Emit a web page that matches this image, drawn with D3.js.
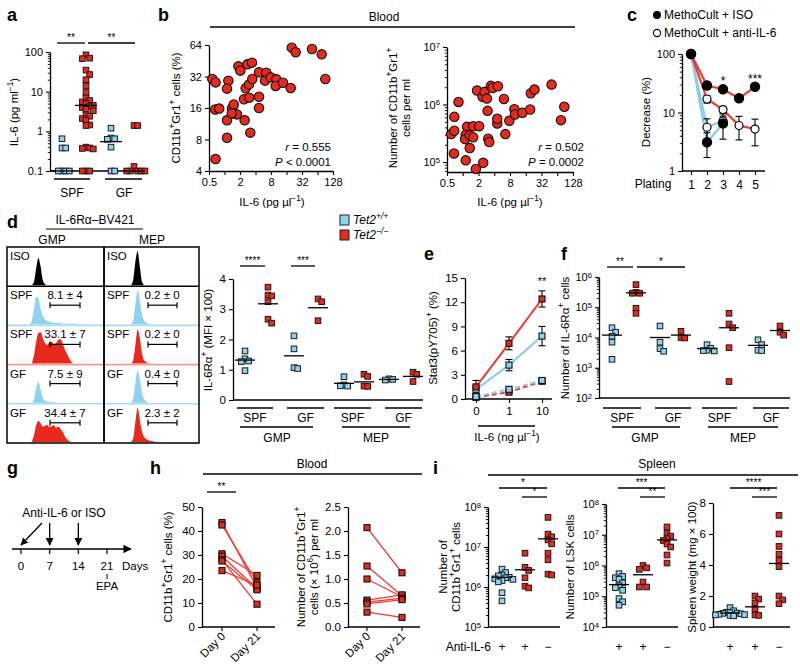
<!DOCTYPE html>
<html><head><meta charset="utf-8">
<script src="https://cdn.jsdelivr.net/npm/d3@7"></script>
<style>
body{margin:0;background:#fff}
svg{display:block;background:#fff}
text{font-family:'Liberation Sans',Arial,Helvetica,sans-serif;fill:#000}
</style>
</head><body>
<svg id="fig" width="800" height="669"></svg>
<script>
// ================= DATA =================
const RED = "#e8291c", BLUE = "#8fd3f1", LRED = "#ee3b2e", LBLUE = "#86cdee";

// panel a : IL-6 (pg/ml)
const aGroupLabels = ["SPF", "GF"];
const aSpfWT = [0.65, 0.38, 0.38, 0.1, 0.1, 0.1, 0.1];
const aSpfKO = [85, 70, 68, 35, 27, 20, 14, 9.5, 7, 6, 5.5, 5, 4.5, 4.2, 4, 3.6, 3.3, 2.6, 2.4, 2.1, 1.9, 1.45, 1.4, 0.4, 0.38, 0.37, 0.36, 0.1, 0.1, 0.1];
const aGfWT = [1.2, 0.68, 0.65, 0.63, 0.4, 0.1, 0.1];
const aGfKO = [1.4, 1.4, 0.13, 0.1, 0.1, 0.1, 0.1, 0.1];
const aMedians = [0.1, 4.5, 0.55, 0.1];
const aTicks = [0.1, 1, 10, 100];

// panel b : blood
const bPctIL6 = [0.58,0.67,0.66,0.79,1.19,1.12,1.12,1.12,0.67,1.40,1.51,1.58,1.75,1.38,1.86,2.03,2.46,2.39,2.58,2.78,3.42,2.99,3.04,3.17,3.47,4.68,4.68,4.68,6.49,6.12,7.88,10.16,9.86,13.7,19.3,20.2,24.1,50.0,77.1,90.8];
const bPctVal  = [30.3,28.1,15.5,15.8,29.2,24.5,12.2,8.3,5.2,15.9,17.3,14.2,13.9,14.2,40.0,36.4,12.2,19.4,24.7,41.8,43.4,26.9,20.1,9.3,30.3,20.5,16.0,35.1,34.8,29.2,31.4,30.1,26.0,27.9,24.8,60.4,54.5,58.6,52.1,30.3];
const bNumIL6 = [0.60,0.69,0.69,0.83,0.68,1.14,1.21,1.14,1.11,1.36,1.36,1.58,1.58,2.06,1.78,1.88,2.46,2.39,2.61,2.89,2.98,3.07,3.21,3.45,3.72,4.70,4.57,4.57,6.13,6.51,7.77,9.69,9.98,13.8,19.4,19.96,23.5,49.8,75.3,87.2];
const bNumVal = [3.06e5,6.1e5,3.5e5,1.11e6,1.41e5,1.07e5,4.1e5,2.98e5,2.5e5,1.75e5,2.9e5,4.2e5,2.7e5,4.2e5,7.6e4,1.75e6,9.7e4,1.36e6,1.66e6,1.27e6,7.76e5,2.54e5,2.22e5,2.11e6,1.94e6,2.08e6,4.69e5,5.64e5,1.25e6,3.06e5,5.21e5,8.3e5,6.71e5,7.17e5,8.19e5,1.57e6,1.82e6,2.22e6,5.35e5,9.12e5];
const bXTicks = [0.5, 2, 8, 32, 128];
const bPctTicks = [4, 8, 16, 32, 64];
const bNumTicks = [1e5, 1e6, 1e7];

// panel c : replating
const cPlating = [1, 2, 3, 4, 5];
const cKoIso = [100, 29, 25, 17.5, 27.5];   const cKoIsoErr = [0, 4, 2, 1.5, 2.5];
const cKoAnti = [100, 17, 11.2, 6, 5.2];    const cKoAntiErr = [0, 2.5, 1.2, 2.6, 2.5];
const cWtIso = [100, 3.1, 6.5];             const cWtIsoErr = [0, 1.4, 3];
const cWtAnti = [100, 5.6, 7.2];            const cWtAntiErr = [0, 2.2, 1.5];
const cTicks = [1, 10, 100];

// panel d : histograms (relative counts per bin) and MFI
const dRows = ["ISO", "SPF", "SPF", "GF", "GF"];
const dHistGMP = [
  {s:9,  v:[0,0.1,0.5,0.8,0.55,0.15,0.03,0]},
  {s:8,  v:[0,0.1,0.45,0.82,0.78,0.45,0.25,0.15,0.1,0.08,0.06,0.05,0.05,0.04,0.04,0.03,0.03,0.03,0.02,0.03,0.03,0.02,0.02,0.01,0]},
  {s:9,  v:[0,0.25,0.65,0.9,0.92,0.75,0.6,0.55,0.62,0.64,0.58,0.6,0.7,0.72,0.6,0.42,0.28,0.15,0.05,0]},
  {s:9,  v:[0,0.1,0.45,0.62,0.4,0.15,0.06,0.04,0.03,0.02,0.02,0.01,0]},
  {s:9,  v:[0,0.2,0.5,0.62,0.55,0.45,0.48,0.5,0.44,0.46,0.5,0.42,0.45,0.4,0.3,0.18,0.08,0.02,0]}
];
const dHistMEP = [
  {s:10, v:[0,0.15,0.7,1.0,0.55,0.1,0]},
  {s:10, v:[0,0.12,0.6,1.0,0.72,0.3,0.12,0.05,0.02,0]},
  {s:10, v:[0,0.1,0.55,1.0,0.75,0.3,0.1,0.04,0.01,0]},
  {s:10, v:[0,0.12,0.6,0.95,0.7,0.3,0.1,0.04,0]},
  {s:10, v:[0,0.1,0.6,1.0,0.65,0.3,0.15,0.08,0.05,0.03,0.02,0.01,0]}
];
const dGateGMP = ["", "8.1 ± 4", "33.1 ± 7", "7.5 ± 9", "34.4 ± 7"];
const dGateMEP = ["", "0.2 ± 0", "0.2 ± 0", "0.4 ± 0", "2.3 ± 2"];
const dGroups = ["SPF", "GF", "SPF", "GF"];
const dCells = ["GMP", "MEP"];
const dMfiWT = [[1.62,1.36,1.29,1.27,0.97],[2.12,1.69,1.07,1.04],[0.77,0.5,0.46,0.47],[0.7,0.68,0.66]];
const dMfiKO = [[3.73,3.47,3.44,3.25,2.67,2.54],[3.34,3.25,2.62],[0.85,0.78,0.46,0.45],[0.92,0.85,0.61]];
const dMfiMeanWT = [1.32, 1.46, 0.55, 0.68];
const dMfiMeanKO = [3.18, 3.05, 0.6, 0.78];
const dMfiTicks = [0, 1, 2, 3, 4];

// panel e : Stat3
const eDose = ["0", "1", "10"];
const eKoSolid = [1.5, 6.9, 12.4];  const eKoSolidErr = [0.8, 0.8, 1.0];
const eWtSolid = [1.2, 4.2, 7.8];   const eWtSolidErr = [0.5, 0.7, 1.2];
const eWtDash = [0.3, 1.2, 2.3];    const eWtDashErr = [0.2, 0.3, 0.3];
const eKoDash = [0.2, 0.85, 2.2];   const eKoDashErr = [0.1, 0.2, 0.3];
const eTicks = [0, 3, 6, 9, 12, 15];

// panel f : number of IL-6Ra+ cells
const fWT = [[2.1e4,1.5e4,1.1e4,7e3,1.9e3],[2.4e4,7e3,4.3e3,3.5e3],[5.8e3,4.4e3,3.8e3,3.7e3,3.6e3],[8.4e3,5.8e3,3.8e3,3.7e3]];
const fKO = [[5.6e5,3.1e5,2.9e5,2.9e5,9.3e4,6.3e4],[1.6e4,1e4,9.6e3],[6.3e4,2.8e4,2.1e4,4.6e3,350],[2.4e4,1.5e4,1.2e4]];
const fMeanWT = [1.2e4, 1e4, 4.3e3, 5.5e3];
const fMeanKO = [3e5, 1.2e4, 2.1e4, 1.7e4];
const fTicks = [1e2, 1e3, 1e4, 1e5, 1e6];

// panel g : schedule
const gDays = [0, 7, 14, 21];
const gInjections = [0, 7, 14];

// panel h : blood day 0 vs day 21
const hDays = ["Day 0", "Day 21"];
const hPctDay0 = [43.5, 42.5, 30.5, 29.5, 28, 27.5, 23.5];
const hPctDay21 = [16.5, 18.5, 21.5, 16, 9.5, 15.5, 17.5];
const hNumDay0 = [2.07, 1.27, 1.0, 0.56, 0.52, 0.48, 0.31];
const hNumDay21 = [1.13, 0.65, 0.63, 0.67, 0.6, 0.57, 0.2];
const hPctTicks = [0, 10, 20, 30, 40, 50];
const hNumTicks = [0, 0.5, 1.0, 1.5, 2.0, 2.5];

// panel i : spleen
const iTreatment = ["+", "+", "−"];
const iCD11 = [[2.8e6,2.3e6,2.0e6,1.9e6,1.75e6,1.7e6,1.6e6,1.55e6,1.45e6,1.35e6,7.2e5,4.5e5],[7e6,3.1e6,2.6e6,1.7e6,1.05e6,9.5e5],[5.5e7,2.1e7,1.8e7,1.5e7,1.2e7,7e6,4.8e6,2.1e6,2e6]];
const iCD11Mean = [1.75e6, 2.7e6, 1.6e7];
const iLSK = [[5.4e5,4.4e5,4e5,3.6e5,2.7e5,2.2e5,1.9e5,1.56e5,8.4e4,6.6e4,5.1e4],[1e6,8.4e5,7.5e5,2.9e5,2e5,2e5],[1.8e7,1.1e7,9e6,7.5e6,6.5e6,5e6,4e6,2.2e6,1.2e6]];
const iLSKMean = [2.4e5, 5e5, 6.8e6];
const iWeight = [[1.25,1.05,0.95,0.92,0.9,0.88,0.85,0.82,0.8,0.78,0.75,0.72],[2.0,1.8,1.55,1.15,0.78,0.75],[7.2,6.0,5.2,4.7,4.3,3.9,2.0,1.75,1.5]];
const iWeightMean = [0.9, 1.3, 4.1];
const iCD11Ticks = [1e5, 1e6, 1e7, 1e8];
const iLSKTicks = [1e4, 1e5, 1e6, 1e7, 1e8];
const iWeightTicks = [0, 2, 4, 6, 8];

// ================= HELPERS =================
const svg = d3.select("#fig");
const defs = svg.append("defs");
defs.append("marker").attr("id","arr").attr("viewBox","0 0 10 10").attr("refX",9).attr("refY",5)
  .attr("markerWidth",6).attr("markerHeight",6).attr("orient","auto")
  .append("path").attr("d","M0,0L10,5L0,10z").attr("fill","#000");

function T(x, y, parts, o = {}) {
  const fs = o.size || 11;
  const t = svg.append("text").attr("x", x).attr("y", y).attr("font-size", fs)
    .attr("text-anchor", o.anchor || "middle");
  if (o.weight) t.attr("font-weight", o.weight);
  if (o.style) t.attr("font-style", o.style);
  if (o.rot !== undefined) t.attr("transform", `rotate(${o.rot},${x},${y})`);
  if (typeof parts === "string") parts = [[parts]];
  let cur = 0;
  parts.forEach(p => {
    const st = p[1] || "";
    const sp = t.append("tspan").text(p[0]);
    const sup = st.includes("sup");
    const target = sup ? -fs * 0.4 : 0;
    if (sup) sp.attr("font-size", fs * 0.72);
    if (st.includes("it")) sp.attr("font-style", "italic");
    if (target !== cur) { sp.attr("dy", target - cur); cur = target; }
  });
  return t;
}
function L(x1, y1, x2, y2, o = {}) {
  return svg.append("line").attr("x1", x1).attr("y1", y1).attr("x2", x2).attr("y2", y2)
    .attr("stroke", o.c || "#000").attr("stroke-width", o.w || 1.2)
    .attr("stroke-dasharray", o.dash || null);
}
function styleAxis(g, fs) {
  g.select(".domain").attr("stroke", "#000").attr("stroke-width", 1.3);
  g.selectAll(".tick line").attr("stroke", "#000").attr("stroke-width", 1.1);
  g.selectAll(".tick text").attr("font-size", fs || 11).attr("fill", "#000");
}
function powLabels(g) {
  g.selectAll(".tick text").each(function (d) {
    const t = d3.select(this); t.text("10");
    t.append("tspan").attr("dy", "-0.45em").attr("font-size", "0.7em").text(Math.round(Math.log10(d)));
  });
}
function logMinor(lo, hi) {
  const out = [];
  for (let e = Math.floor(Math.log10(lo)); e < Math.ceil(Math.log10(hi)); e++)
    for (let k = 2; k <= 9; k++) { const v = k * Math.pow(10, e); if (v >= lo && v <= hi) out.push(v); }
  return out;
}
function yAxis(scale, x, ticks, fmt, o = {}) {
  const g = svg.append("g").attr("transform", `translate(${x},0)`)
    .call(d3.axisLeft(scale).tickValues(ticks).tickFormat(fmt || (d => d)).tickSize(4).tickSizeOuter(0).tickPadding(3));
  styleAxis(g, o.fs);
  if (o.pow) powLabels(g);
  if (o.minor) {
    const m = svg.append("g").attr("transform", `translate(${x},0)`)
      .call(d3.axisLeft(scale).tickValues(o.minor).tickFormat("").tickSize(2.2).tickSizeOuter(0));
    m.select(".domain").remove();
    m.selectAll("line").attr("stroke", "#000").attr("stroke-width", 0.9);
  }
  return g;
}
function xAxis(scale, y, ticks, fmt, o = {}) {
  const ax = d3.axisBottom(scale).tickSize(4).tickSizeOuter(0).tickPadding(3).tickFormat(fmt || (d => d));
  if (ticks) ax.tickValues(ticks);
  const g = svg.append("g").attr("transform", `translate(0,${y})`).call(ax);
  styleAxis(g, o.fs);
  return g;
}
// beeswarm layout for the dot plots (positions only)
function swarm(vals, scale, cx, size) {
  const pts = vals.map(v => ({ v, y: scale(v) }));
  const placed = [];
  const step = size * 0.65, thrX = size * 0.65, thrY = size * 0.9;
  const cand = [0];
  for (let k = 1; k < 5; k++) { cand.push(k * step); cand.push(-k * step); }
  pts.forEach(p => {
    let best = cx, bestHits = 1e9;
    for (const c of cand) {
      const x = cx + c;
      const hits = placed.filter(q => Math.abs(q.x - x) < thrX - 0.01 && Math.abs(q.y - p.y) < thrY).length;
      if (hits === 0) { best = x; break; }
      if (hits < bestHits) { bestHits = hits; best = x; }
    }
    p.x = best;
    placed.push(p);
  });
  return pts;
}
function squares(vals, scale, cx, color, size = 5.6) {
  const pts = swarm(vals, scale, cx, size);
  svg.append("g").selectAll("rect").data(pts).join("rect")
    .attr("x", d => d.x - size / 2).attr("y", d => d.y - size / 2)
    .attr("width", size).attr("height", size)
    .attr("fill", color).attr("stroke", "#1a1a1a").attr("stroke-width", 1);
}
function meanLine(v, scale, cx, hw) { L(cx - hw, scale(v), cx + hw, scale(v), { w: 1.3 }); }
function sig(x1, x2, y, s) { L(x1, y, x2, y, { w: 1.3 }); T((x1 + x2) / 2, y - 2, s, { size: 10 }); }
function letter(x, y, s) { T(x, y, s, { size: 18, weight: "bold", anchor: "start" }); }
function errBar(x, y1, y2, cap) {
  L(x, y1, x, y2, { w: 1.1 });
  L(x - cap, y1, x + cap, y1, { w: 1.1 });
  L(x - cap, y2, x + cap, y2, { w: 1.1 });
}

// ================= PANEL a =================
letter(7, 21, "a");
const yA = d3.scaleLog().domain([0.1, 100]).range([171, 52]);
yAxis(yA, 50, aTicks, d => d, { minor: logMinor(0.1, 100) });
L(50, 171, 146, 171, { w: 1.3 });
const aCenters = [62, 86, 111, 134];
[aSpfWT, aSpfKO, aGfWT, aGfKO].forEach((arr, i) => {
  squares(arr, yA, aCenters[i], i % 2 ? RED : BLUE);
  meanLine(aMedians[i], yA, aCenters[i], 11);
});
L(54, 179, 90, 179, { w: 1.3 }); L(105, 179, 142, 179, { w: 1.3 });
T(72, 197, aGroupLabels[0], { size: 12 }); T(124, 197, aGroupLabels[1], { size: 12 });
sig(57, 85, 43, "**"); sig(88, 135, 43, "**");
T(18, 112, [["IL-6 (pg ml"], ["−1", "sup"], [")"]], { rot: -90, size: 11.5 });

// ================= PANEL b =================
letter(158, 21, "b");
T(384, 21, "Blood", { size: 12 });
L(210, 27, 575, 27, { w: 1.3 });
const xB1 = d3.scaleLog().base(2).domain([0.5, 128]).range([209, 333]);
const yB1 = d3.scaleLog().base(2).domain([4, 64]).range([171, 45]);
yAxis(yB1, 209, bPctTicks, d => d);
xAxis(xB1, 171, [0.5, 1, 2, 4, 8, 16, 32, 64, 128], d => bXTicks.includes(d) ? d : "");
svg.append("g").selectAll("circle").data(bPctIL6).join("circle")
  .attr("cx", (d) => xB1(d)).attr("cy", (d, i) => yB1(bPctVal[i])).attr("r", 4.7)
  .attr("fill", RED).attr("stroke", "#111").attr("stroke-width", 1.1);
T(272, 206, [["IL-6 (pg µl"], ["−1", "sup"], [")"]], { size: 11.5 });
T(180, 108, [["CD11b"], ["+", "sup"], ["Gr1"], ["+", "sup"], [" cells (%)"]], { rot: -90, size: 11.5 });
T(331, 151, [["r", "it"], [" = 0.555"]], { anchor: "end", size: 11.5 });
T(331, 166, [["P", "it"], [" < 0.0001"]], { anchor: "end", size: 11.5 });
const xB2 = d3.scaleLog().base(2).domain([0.5, 128]).range([447, 573]);
const yB2 = d3.scaleLog().domain([Math.pow(10, 4.827), 1e7]).range([172, 47]);
yAxis(yB2, 447, bNumTicks, d => d, { pow: true, minor: logMinor(Math.pow(10, 4.827), 1e7) });
xAxis(xB2, 172, [0.5, 1, 2, 4, 8, 16, 32, 64, 128], d => bXTicks.includes(d) ? d : "");
svg.append("g").selectAll("circle").data(bNumIL6).join("circle")
  .attr("cx", d => xB2(d)).attr("cy", (d, i) => yB2(bNumVal[i])).attr("r", 4.7)
  .attr("fill", RED).attr("stroke", "#111").attr("stroke-width", 1.1);
T(510, 206, [["IL-6 (pg µl"], ["−1", "sup"], [")"]], { size: 11.5 });
T(397, 108, [["Number of CD11b"], ["+", "sup"], ["Gr1"], ["+", "sup"]], { rot: -90, size: 11.5 });
T(410, 108, "cells per ml", { rot: -90, size: 11.5 });
T(584, 151, [["r", "it"], [" = 0.502"]], { anchor: "end", size: 11.5 });
T(584, 166, [["P", "it"], [" = 0.0002"]], { anchor: "end", size: 11.5 });

// ================= PANEL c =================
letter(627, 21, "c");
svg.append("circle").attr("cx", 657).attr("cy", 15).attr("r", 4).attr("fill", "#000");
T(664, 19, "MethoCult + ISO", { anchor: "start", size: 12 });
svg.append("circle").attr("cx", 657).attr("cy", 33).attr("r", 3.6).attr("fill", "#fff").attr("stroke", "#000").attr("stroke-width", 1.1);
T(664, 37, "MethoCult + anti-IL-6", { anchor: "start", size: 12 });
const yC = d3.scaleLog().domain([1, 100]).range([171, 54]);
const xC = d3.scaleLinear().domain([1, 5]).range([691, 755]);
yAxis(yC, 682, cTicks, d => d, { minor: logMinor(1, 100) });
const gxc = svg.append("g").attr("transform", "translate(0,171)")
  .call(d3.axisBottom(xC).tickValues(cPlating).tickFormat(d => d).tickSize(4).tickSizeOuter(0).tickPadding(5));
styleAxis(gxc, 12);
gxc.select(".domain").attr("d", "M682,0H765");
T(653, 188, "Plating", { size: 12 });
T(650, 112, "Decrease (%)", { rot: -90, size: 11.5 });
const lineC = d3.line().x((d, i) => xC(cPlating[i])).y(d => yC(d));
[[cWtIso, LBLUE], [cWtAnti, LBLUE], [cKoIso, LRED], [cKoAnti, LRED]].forEach(([arr, col]) => {
  svg.append("path").attr("d", lineC(arr)).attr("fill", "none").attr("stroke", col).attr("stroke-width", 2.2);
});
[[cWtIso, cWtIsoErr], [cWtAnti, cWtAntiErr], [cKoIso, cKoIsoErr], [cKoAnti, cKoAntiErr]].forEach(([arr, err]) => {
  arr.forEach((v, i) => { if (err[i] > 0) errBar(xC(cPlating[i]), yC(v - err[i]), yC(v + err[i]), 3.5); });
});
[[cWtAnti, false], [cKoAnti, false], [cWtIso, true], [cKoIso, true]].forEach(([arr, filled]) => {
  arr.forEach((v, i) => {
    svg.append("circle").attr("cx", xC(cPlating[i])).attr("cy", yC(v)).attr("r", filled ? 4.6 : 4)
      .attr("fill", filled ? "#000" : "#fff").attr("stroke", "#000").attr("stroke-width", 1.2);
  });
});
T(xC(3), 85, "*", { size: 12 });
T(xC(5), 83, "***", { size: 12 });

// ================= PANEL d (histograms) =================
letter(7, 228, "d");
T(95, 224, "IL-6Rα–BV421", { size: 12 });
L(46, 229, 143, 229, { w: 1.2 });
T(52, 244, dCells[0], { size: 12 });
T(152, 244, dCells[1], { size: 12 });
const rowTop0 = 247, rowH = 39.2;
const rowColors = ["#000", BLUE, RED, BLUE, RED];
const lineColors = ["#000", "#a9dcf3", "#f29a93", "#a9dcf3", "#000"];
function drawHist(h, x0, top, color) {
  const xs = d3.scaleLinear().domain([0, 40]).range([x0 + 5, x0 + 93]);
  const bottom = top + rowH - 1;
  const area = d3.area().curve(d3.curveMonotoneX)
    .x((d, i) => xs(h.s + i)).y0(bottom).y1(d => bottom - d * 34);
  svg.append("path").attr("d", area(h.v)).attr("fill", color);
}
dRows.forEach((r, i) => {
  const top = rowTop0 + i * rowH;
  drawHist(dHistGMP[i], 7, top, rowColors[i]);
  drawHist(dHistMEP[i], 104, top, rowColors[i]);
  if (i < dRows.length - 1) {
    L(7, top + rowH, 104, top + rowH, { c: lineColors[i], w: 1.6 });
    L(104, top + rowH, 199, top + rowH, { c: lineColors[i], w: 1.6 });
  }
  T(10, top + 13, r, { anchor: "start", size: 11.5 });
  T(107, top + 13, r, { anchor: "start", size: 11.5 });
  if (dGateGMP[i]) {
    T(65, top + 13, dGateGMP[i], { size: 11.5 });
    L(50, top + 19, 80, top + 19, { w: 1.2 }); L(50, top + 16, 50, top + 22, { w: 1.2 }); L(80, top + 16, 80, top + 22, { w: 1.2 });
    T(162, top + 13, dGateMEP[i], { size: 11.5 });
    L(148, top + 19, 177, top + 19, { w: 1.2 }); L(148, top + 16, 148, top + 22, { w: 1.2 }); L(177, top + 16, 177, top + 22, { w: 1.2 });
  }
});
svg.append("rect").attr("x", 7).attr("y", rowTop0).attr("width", 97).attr("height", 5 * rowH).attr("fill", "none").attr("stroke", "#000").attr("stroke-width", 1.5);
svg.append("rect").attr("x", 104).attr("y", rowTop0).attr("width", 95).attr("height", 5 * rowH).attr("fill", "none").attr("stroke", "#000").attr("stroke-width", 1.5);

svg.append("rect").attr("x", 340).attr("y", 215).attr("width", 9).attr("height", 10).attr("fill", BLUE).attr("stroke", "#222");
svg.append("rect").attr("x", 340).attr("y", 230).attr("width", 9).attr("height", 10).attr("fill", RED).attr("stroke", "#222");
T(353, 224, [["Tet2", "it"], ["+/+", "supit"]], { anchor: "start", size: 12 });
T(353, 239, [["Tet2", "it"], ["−/−", "supit"]], { anchor: "start", size: 12 });

// ================= PANEL d (MFI) =================
const yD = d3.scaleLinear().domain([0, 4]).range([400, 279]);
yAxis(yD, 233, dMfiTicks, d => d, { fs: 11.5 });
L(233, 400, 423, 400, { w: 1.3 });
const dWtX = [245, 294, 344, 389], dKoX = [268, 318, 364, 413];
dMfiWT.forEach((arr, i) => { squares(arr, yD, dWtX[i], BLUE); meanLine(dMfiMeanWT[i], yD, dWtX[i], 10); });
dMfiKO.forEach((arr, i) => { squares(arr, yD, dKoX[i], RED); meanLine(dMfiMeanKO[i], yD, dKoX[i], 10); });
const dUnder = [[237, 273], [287, 324], [334, 371], [385, 422]];
dUnder.forEach((u, i) => { L(u[0], 408, u[1], 408, { w: 1.3 }); T((u[0] + u[1]) / 2, 422, dGroups[i], { size: 12 }); });
L(240, 427, 313, 427, { w: 1.3 }); L(342, 427, 410, 427, { w: 1.3 });
T(277, 442, dCells[0], { size: 12 }); T(376, 442, dCells[1], { size: 12 });
sig(240, 265, 266, "****"); sig(291, 315, 266, "***");
T(212, 340, [["IL-6Rα"], ["+", "sup"], [" (MFI × 100)"]], { rot: -90, size: 11.5 });

// ================= PANEL e =================
letter(424, 260, "e");
const yE = d3.scaleLinear().domain([0, 15]).range([399, 278]);
const xE = d3.scalePoint().domain(eDose).range([476, 542]);
yAxis(yE, 465, eTicks, d => d, { fs: 11.5 });
const gxe = svg.append("g").attr("transform", "translate(0,399)")
  .call(d3.axisBottom(xE).tickSize(4).tickSizeOuter(0).tickPadding(4));
styleAxis(gxe, 11.5);
gxe.select(".domain").attr("d", "M465,0H552");
L(478, 426, 535, 426, { w: 1.3 });
T(507, 441, [["IL-6 (ng µl"], ["−1", "sup"], [")"]], { size: 11.5 });
T(437, 338, [["Stat3(pY705)"], ["+", "sup"], [" (%)"]], { rot: -90, size: 11.5 });
const lineE = d3.line().x((d, i) => xE(eDose[i])).y(d => yE(d));
[[eKoDash, LRED, "5,3", eKoDashErr], [eWtDash, LBLUE, "5,3", eWtDashErr], [eWtSolid, LBLUE, null, eWtSolidErr], [eKoSolid, LRED, null, eKoSolidErr]].forEach(([arr, col, dash, err]) => {
  svg.append("path").attr("d", lineE(arr)).attr("fill", "none").attr("stroke", col).attr("stroke-width", 2).attr("stroke-dasharray", dash);
  arr.forEach((v, i) => errBar(xE(eDose[i]), yE(v - err[i]), yE(v + err[i]), 3.5));
});
[[eKoDash, RED], [eWtDash, BLUE], [eWtSolid, BLUE], [eKoSolid, RED]].forEach(([arr, col]) => {
  arr.forEach((v, i) => svg.append("rect").attr("x", xE(eDose[i]) - 3).attr("y", yE(v) - 3).attr("width", 6).attr("height", 6)
    .attr("fill", col).attr("stroke", "#111").attr("stroke-width", 1.1));
});
T(542, 285, "**", { size: 11 });

// ================= PANEL f =================
letter(561, 260, "f");
const yF = d3.scaleLog().domain([1e2, 1e6]).range([398, 277]);
yAxis(yF, 599, fTicks, d => d, { pow: true, minor: logMinor(1e2, 1e6) });
L(599, 398, 790, 398, { w: 1.3 });
const fWtX = [612, 660, 707, 758], fKoX = [636, 681, 729, 780];
fWT.forEach((arr, i) => { squares(arr, yF, fWtX[i], BLUE); meanLine(fMeanWT[i], yF, fWtX[i], 10); });
fKO.forEach((arr, i) => { squares(arr, yF, fKoX[i], RED); meanLine(fMeanKO[i], yF, fKoX[i], 10); });
const fUnder = [[603, 641], [655, 691], [702, 737], [753, 789]];
fUnder.forEach((u, i) => { L(u[0], 408, u[1], 408, { w: 1.3 }); T((u[0] + u[1]) / 2, 422, dGroups[i], { size: 12 }); });
L(612, 427, 680, 427, { w: 1.3 }); L(708, 427, 778, 427, { w: 1.3 });
T(645, 442, dCells[0], { size: 12 }); T(743, 442, dCells[1], { size: 12 });
sig(607, 633, 267, "**"); sig(637, 685, 267, "*");
T(569, 338, [["Number of IL-6Rα"], ["+", "sup"], [" cells"]], { rot: -90, size: 11.5 });

// ================= PANEL g =================
letter(7, 474, "g");
const xG = d3.scaleLinear().domain([0, 21]).range([21, 107]);
svg.append("line").attr("x1", 12).attr("y1", 549).attr("x2", 131).attr("y2", 549).attr("stroke", "#000").attr("stroke-width", 1.4).attr("marker-end", "url(#arr)");
gDays.forEach(d => { L(xG(d), 549, xG(d), 554, { w: 1.2 }); T(xG(d), 570, String(d), { size: 11.5 }); });
T(122, 570, "Days", { size: 11.5, anchor: "start" });
L(xG(21), 574, xG(21), 579, { w: 1 });
T(xG(21), 590, "EPA", { size: 11.5 });
T(64, 517, "Anti-IL-6 or ISO", { size: 12 });
gInjections.forEach(d => {
  const x0 = d === 0 ? 42 : xG(d);
  svg.append("line").attr("x1", x0).attr("y1", 523).attr("x2", xG(d)).attr("y2", 545)
    .attr("stroke", "#000").attr("stroke-width", 1.3).attr("marker-end", "url(#arr)");
});

// ================= PANEL h =================
letter(150, 474, "h");
T(312, 468, "Blood", { size: 12 });
L(203, 474, 422, 474, { w: 1.3 });
const yH1 = d3.scaleLinear().domain([0, 50]).range([627, 507]);
const xH1 = d3.scalePoint().domain(hDays).range([222, 257]);
yAxis(yH1, 202, hPctTicks, d => d, { fs: 11.5 });
L(202, 627, 275, 627, { w: 1.3 });
const yH2 = d3.scaleLinear().domain([0, 2.5]).range([627, 507]);
const xH2 = d3.scalePoint().domain(hDays).range([367, 402]);
yAxis(yH2, 348, hNumTicks, d3.format(".1f"), { fs: 11.5 });
L(348, 627, 420, 627, { w: 1.3 });
function pairs(d0, d21, xs, ys) {
  d0.forEach((v, i) => L(xs(hDays[0]), ys(v), xs(hDays[1]), ys(d21[i]), { c: LRED, w: 1.3 }));
  [d0, d21].forEach((arr, k) => arr.forEach(v => svg.append("rect").attr("x", xs(hDays[k]) - 3).attr("y", ys(v) - 3)
    .attr("width", 6).attr("height", 6).attr("fill", RED).attr("stroke", "#111").attr("stroke-width", 1.1)));
  hDays.forEach(d => { L(xs(d), 627, xs(d), 631, { w: 1.1 }); T(xs(d) + 4, 637, d, { size: 11.5, anchor: "end", rot: -45 }); });
}
pairs(hPctDay0, hPctDay21, xH1, yH1);
pairs(hNumDay0, hNumDay21, xH2, yH2);
sig(207, 236, 492, "**");
T(172, 567, [["CD11b"], ["+", "sup"], ["Gr1"], ["+", "sup"], [" cells (%)"]], { rot: -90, size: 11.5 });
T(305, 567, [["Number of CD11b"], ["+", "sup"], ["Gr1"], ["+", "sup"]], { rot: -90, size: 11.5 });
T(318, 567, [["cells (× 10"], ["6", "sup"], [") per ml"]], { rot: -90, size: 11.5 });

// ================= PANEL i =================
letter(433, 474, "i");
T(657, 468, "Spleen", { size: 12 });
L(488, 475, 798, 475, { w: 1.3 });
const yI1 = d3.scaleLog().domain([1e5, 1e8]).range([627, 507]);
const yI2 = d3.scaleLog().domain([1e4, 1e8]).range([627, 504]);
const yI3 = d3.scaleLinear().domain([0, 8]).range([627, 503]);
yAxis(yI1, 488, iCD11Ticks, d => d, { pow: true, minor: logMinor(1e5, 1e8) });
yAxis(yI2, 606, iLSKTicks, d => d, { pow: true, minor: logMinor(1e4, 1e8) });
yAxis(yI3, 713, iWeightTicks, d => d, { fs: 11.5 });
L(488, 627, 560, 627, { w: 1.3 }); L(606, 627, 678, 627, { w: 1.3 }); L(713, 627, 790, 627, { w: 1.3 });
const iX1 = [502, 525, 548], iX2 = [619, 643, 667], iX3 = [730, 755, 779];
[[iCD11, iCD11Mean, yI1, iX1], [iLSK, iLSKMean, yI2, iX2], [iWeight, iWeightMean, yI3, iX3]].forEach(([data, means, ys, xs]) => {
  data.forEach((arr, i) => { squares(arr, ys, xs[i], i === 0 ? BLUE : RED); meanLine(means[i], ys, xs[i], 10); });
  xs.forEach((x, i) => T(x, 651, iTreatment[i], { size: 12 }));
});
T(491, 651, "Anti-IL-6", { size: 12, anchor: "end" });
sig(499, 547, 488, "*"); sig(522, 547, 497, "*");
sig(618, 665, 488, "***"); sig(640, 665, 497, "**");
sig(730, 777, 488, "****"); sig(752, 777, 497, "***");
T(447, 567, "Number of", { rot: -90, size: 11.5 });
T(460, 567, [["CD11b"], ["+", "sup"], ["Gr1"], ["+", "sup"], [" cells"]], { rot: -90, size: 11.5 });
T(574, 567, "Number of LSK cells", { rot: -90, size: 11.5 });
T(696, 567, "Spleen weight (mg × 100)", { rot: -90, size: 11.5 });
</script>
</body></html>
